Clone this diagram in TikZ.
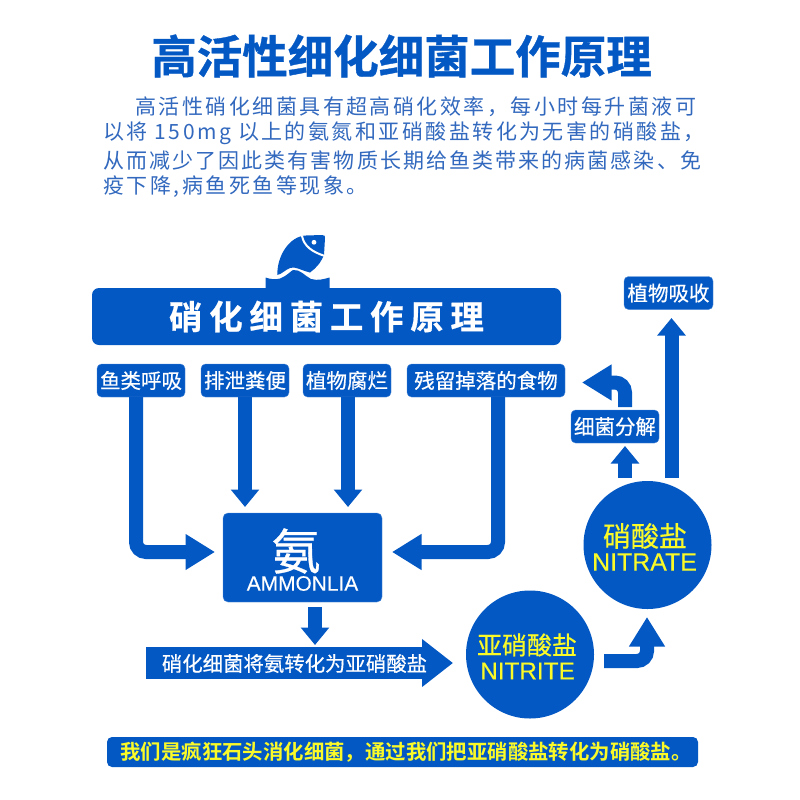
\documentclass[tikz,border=0pt]{standalone}
\usepackage{fontspec}
\usetikzlibrary{arrows.meta}
\setmainfont{Noto Sans CJK SC}[BoldFont={Noto Sans CJK SC Bold}]
\newfontfamily\latinfont{Liberation Sans}
\definecolor{brand}{RGB}{4,88,196}
\definecolor{para}{RGB}{50,105,190}
\definecolor{lemon}{RGB}{250,250,40}
\tikzset{
  x=1pt,y=-1pt,
  flow/.style={draw=brand,line width=14pt,rounded corners=10pt,
     -{Triangle[width=27.5pt,length=17.5pt,sep=0pt]}},
  bentflow/.style={draw=brand,line width=14pt,rounded corners=10pt,
     -{Triangle[width=34pt,length=29.5pt,sep=0pt]}},
  tag/.style={fill=brand,draw=brand!70!white,line width=.4pt,rounded corners=4.5pt,text=white,
     minimum height=33pt,inner sep=0pt,font=\fontsize{20.5}{21}\selectfont\addfontfeature{FakeBold=0.6}},
  disc/.style={circle,fill=brand,minimum size=128pt,inner sep=0pt},
  paraline/.style={anchor=west,inner sep=0pt,text=para,font=\fontsize{21}{21}\selectfont},
  cnlabel/.style={text=lemon,inner sep=0pt,font=\fontsize{#1}{#1}\selectfont\addfontfeature{FakeBold=0.5}},
  enlabel/.style={inner sep=0pt,font=\latinfont\fontsize{#1}{#1}\selectfont\addfontfeature{FakeBold=0.3}},
}
\begin{document}
\begin{tikzpicture}
\useasboundingbox (0,0) rectangle (800,800);
\fill[white] (0,0) rectangle (800,800);
\node[text=brand,inner sep=0pt,font=\fontsize{45.5}{45}\selectfont\bfseries\addfontfeature{FakeBold=0.8}] (title) at (401.5,56) {高活性细化细菌工作原理};
\node[paraline] (p1) at (135,107) {\addfontfeature{LetterSpace=11.8}高活性硝化细菌具有超高硝化效率，每小时每升菌液可};
\node[paraline] (p2) at (103,133.5) {\addfontfeature{LetterSpace=11.7}以将 150mg 以上的氨氮和亚硝酸盐转化为无害的硝酸盐，};
\node[paraline] (p3) at (103,160.5) {\addfontfeature{LetterSpace=9.9}从而减少了因此类有害物质长期给鱼类带来的病菌感染、免};
\node[paraline] (p4) at (103,187) {\addfontfeature{LetterSpace=12}疫下降,病鱼死鱼等现象。};
% fish
\fill[brand] (277.3,275) .. controls (277,255) and (290,236) .. (306,235.5) -- (322,235) .. controls (325,235) and (325,236) .. (325,238) -- (324,255) .. controls (320,264) and (316,268) .. (310,272.5) .. controls (300,270) and (295,266) .. (290,268) .. controls (285,270) and (282,274) .. (277.3,275) -- cycle;
\draw[white,line width=2pt] (302,236) .. controls (304,246) and (312,252) .. (325,256);
\fill[white] (314,242.3) circle (2.4);
\fill[brand] (265.5,288.5) -- (265.5,277.5) .. controls (270,279) and (275,280) .. (280,278.5) .. controls (287,276) and (292,270) .. (293,270) .. controls (300,269) and (305,276) .. (311,279) .. controls (318,281) and (324,279) .. (329.5,277.5) -- (329.5,288.5) -- cycle;
\node[fill=brand,rounded corners=7pt,minimum width=469pt,minimum height=57pt,inner sep=0pt,text=white,font=\fontsize{33.5}{33}\selectfont\bfseries\addfontfeature{FakeBold=0.6}] (head) at (326.5,316.5) {\addfontfeature{LetterSpace=20}硝化细菌工作原理};
% tags
\node[tag,minimum width=88pt] (fishb) at (141,380.5) {鱼类呼吸};
\node[tag,minimum width=88pt] (waste) at (245,380.5) {排泄粪便};
\node[tag,minimum width=88pt] (rot) at (347,380.5) {植物腐烂};
\node[tag,minimum width=158pt] (food) at (486,380.5) {残留掉落的食物};
\node[tag,minimum width=89pt] (absorb) at (668.5,293) {植物吸收};
\node[tag,minimum width=88pt] (decomp) at (615,426.5) {细菌分解};
% ammonia
\node[fill=brand,draw=brand!70!white,line width=.4pt,rounded corners=5pt,minimum width=159pt,minimum height=89pt,inner sep=0pt] (amm) at (302.5,557.5) {};
\node[text=white,inner sep=0pt,font=\fontsize{49}{49}\selectfont\addfontfeature{FakeBold=0.6}] (ammcn) at (296,551) {氨};
\node[enlabel=20.9,text=white] (ammen) at (302.5,583.5) {AMMONLIA};
% discs
\node[disc] (nitrite) at (530,654.5) {};
\node[disc] (nitrate) at (647.5,545) {};
\node[cnlabel=25] (nicn) at (527,645) {亚硝酸盐};
\node[enlabel=24.3,text=lemon] (nien) at (527.5,671) {NITRITE};
\node[cnlabel=28] (nacn) at (645,536) {硝酸盐};
\node[enlabel=24.9,text=lemon] (naen) at (644.5,562) {NITRATE};
% connectors
\coordinate (j1) at (136,552); \coordinate (t1) at (215,552);
\coordinate (j4) at (498,552); \coordinate (t4) at (392,552);
\coordinate (t2) at (245,507); \coordinate (t3) at (348,507);
\coordinate (a1) at (315,607); \coordinate (a2) at (315,645);
\draw[bentflow] (fishb.south -| j1) -- (j1) -- (t1);
\draw[flow] (waste.south -| t2) -- (t2);
\draw[flow] (rot.south -| t3) -- (t3);
\draw[bentflow] (food.south -| j4) -- (j4) -- (t4);
\draw[flow] (a1) -- (a2);
\coordinate (s1) at (604,661); \coordinate (j2) at (647,661); \coordinate (t5) at (647,617);
\draw[bentflow] (s1) -- (j2) -- (t5);
\coordinate (s6) at (671.5,478); \coordinate (t6) at (671.5,318);
\draw[flow] (s6) -- (t6);
\coordinate (s7) at (625,478); \coordinate (t7) at (625,446);
\draw[flow] (s7) -- (t7);
\coordinate (s8) at (625,407); \coordinate (j8) at (625,382.5); \coordinate (t8) at (582,382.5);
\draw[bentflow] (s8) -- (j8) -- (t8);
% banner arrow
\coordinate (s9) at (146,663); \coordinate (t9) at (453,663);
\draw[brand,line width=32pt,-{Triangle[width=46pt,length=31pt,sep=0pt]}] (s9) -- (t9);
\node[text=white,inner sep=0pt,font=\fontsize{20.4}{20.4}\selectfont\addfontfeature{FakeBold=0.5}] (bannertext) at (294.5,663.5) {硝化细菌将氨转化为亚硝酸盐};
% bottom bar
\node[fill=brand,rounded corners=5pt,minimum width=591pt,minimum height=30pt,inner sep=0pt] (bar) at (402.5,752) {};
\node[text=lemon,inner sep=0pt,font=\fontsize{20.4}{20.4}\selectfont\bfseries] (bartext) at (406,752) {我们是疯狂石头消化细菌，通过我们把亚硝酸盐转化为硝酸盐。};
\end{tikzpicture}
\end{document}
